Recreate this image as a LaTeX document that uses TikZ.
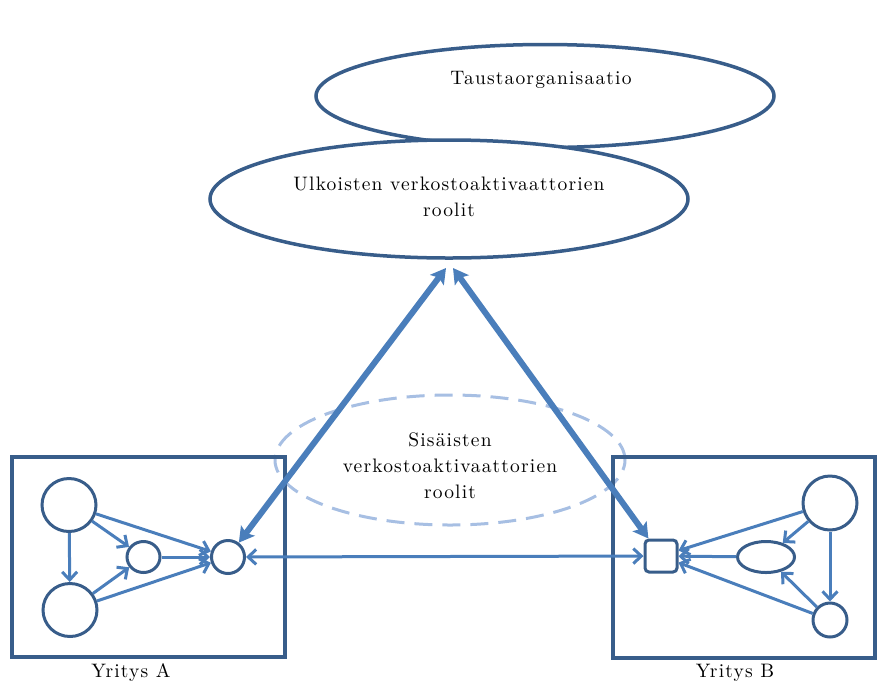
\documentclass[tikz,border=0pt]{standalone}
\usepackage{fontspec}
\newfontfamily\widefont{lmroman10-regular.otf}[LetterSpace=6]
\usetikzlibrary{arrows.meta,shapes.geometric}
\definecolor{edge}{RGB}{56,93,138}
\definecolor{arr}{RGB}{74,126,187}
\definecolor{dash}{RGB}{167,191,227}
\tikzset{
  txt/.style={font=\widefont\fontsize{19.5}{26}\selectfont, align=center, text=black},
  bigell/.style={draw=edge, line width=3.5pt, ellipse, inner sep=0pt},
  box/.style={draw=edge, line width=3.5pt, rectangle, inner sep=0pt},
  nd/.style={draw=edge, line width=3pt, ellipse, inner sep=0pt},
  thin/.style={draw=arr, line width=3pt, -{Straight Barb[length=8pt,width=15pt]}},
  thinboth/.style={draw=arr, line width=3pt, {Straight Barb[length=8pt,width=15pt]}-{Straight Barb[length=8pt,width=15pt]}},
  thick/.style={draw=arr, line width=6pt, {Stealth[length=15pt,width=17pt,inset=3pt]}-{Stealth[length=15pt,width=17pt,inset=3pt]}},
}
\begin{document}
\begin{tikzpicture}[x=1pt,y=-1pt]
\useasboundingbox (0,0) rectangle (877,689);
% top ellipses
\node[bigell, fill=white, minimum width=458pt, minimum height=103pt] (tausta) at (545,96) {};
\node[txt] (taustat) at (541,80) {Taustaorganisaatio};
\node[bigell, fill=white, minimum width=478pt, minimum height=118pt] (ulk) at (449,199) {};
\node[txt] (ulkt) at (449,197) {Ulkoisten verkostoaktivaattorien\\roolit};
% dashed inner ellipse
\node[draw=dash, line width=3pt, dash pattern=on 18pt off 10pt, ellipse, minimum width=350pt, minimum height=130pt] (sis) at (450,460) {};
\node[txt] (sist) at (450,466) {Sisäisten\\verkostoaktivaattorien\\roolit};
% boxes
\node[box, minimum width=273pt, minimum height=200pt] (boxA) at (148.5,557) {};
\node[box, minimum width=262pt, minimum height=201pt] (boxB) at (744,557.5) {};
\node[txt] (labA) at (131,673) {Yritys A};
\node[txt] (labB) at (735,673) {Yritys B};
% company A nodes
\node[nd, minimum width=54pt, minimum height=53pt] (a1) at (69,505) {};
\node[nd, minimum width=54pt, minimum height=53pt] (a2) at (70,610) {};
\node[nd, minimum width=33pt, minimum height=31pt] (a3) at (143.5,557) {};
\node[nd, minimum width=33pt, minimum height=33pt] (a4) at (228,557) {};
% company B nodes
\node[draw=edge, line width=3pt, rectangle, rounded corners=4pt, minimum width=32pt, minimum height=32pt, inner sep=0pt] (b4) at (661,556) {};
\node[nd, minimum width=57pt, minimum height=31pt] (b3) at (766,557) {};
\node[nd, minimum width=54pt, minimum height=54pt] (b1) at (830,503) {};
\node[nd, minimum width=34pt, minimum height=34pt] (b2) at (830,620) {};
% arrows A
\draw[thin] (a1) -- (a2);
\draw[thin] (a1) -- (a3);
\draw[thin] (a1) -- (a4);
\draw[thin] (a2) -- (a3);
\draw[thin] (a2) -- (a4);
\draw[thin] (a3) -- (a4);
% arrows B
\draw[thin] (b1) -- (b2);
\draw[thin] (b1) -- (b3);
\draw[thin] (b1) -- (b4);
\draw[thin] (b2) -- (b3);
\draw[thin] (b2) -- (b4);
\draw[thin] (b3) -- (b4);
% link between companies
\draw[thinboth] (a4) -- (b4);
% thick arrows
\coordinate (ua) at (446,268);
\coordinate (ub) at (453,268);
\draw[thick] (ua) -- (a4);
\draw[thick] (ub) -- (b4);
\end{tikzpicture}
\end{document}
